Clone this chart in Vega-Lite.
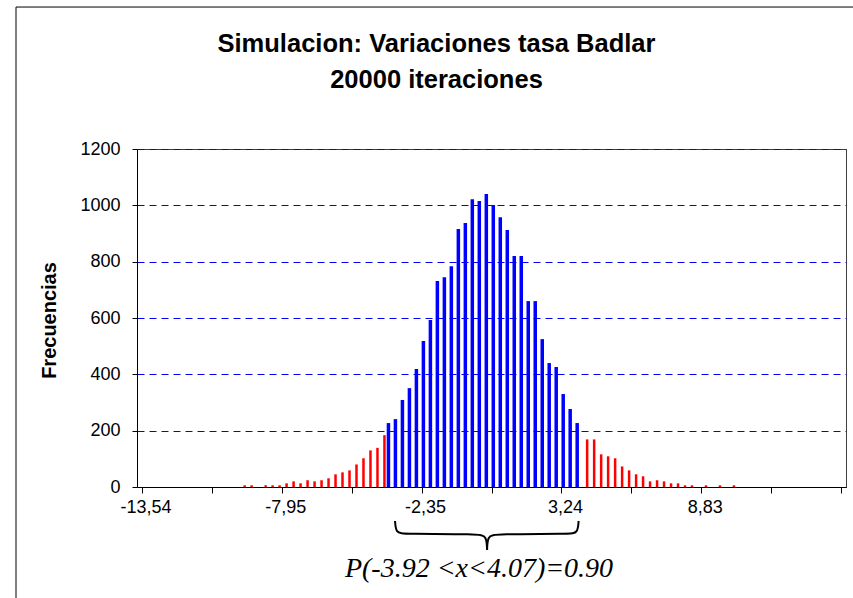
{
  "$schema": "https://vega.github.io/schema/vega-lite/v6.json",
  "width": 709,
  "height": 338,
  "autosize": "none",
  "padding": {"left": 137, "top": 149, "right": 7, "bottom": 111},
  "background": "white",
  "config": {
    "view": {"stroke": "#404040", "strokeWidth": 1},
    "font": "Liberation Sans",
    "axis": {"labelColor": "black", "titleColor": "black", "domainColor": "black", "tickColor": "black", "labelFont": "Liberation Sans", "titleFont": "Liberation Sans"}
  },
  "title": {
    "text": ["Simulacion: Variaciones tasa Badlar", "20000 iteraciones"],
    "font": "Liberation Sans", "fontSize": 25.5, "fontWeight": "bold", "color": "black",
    "anchor": "middle", "frame": "group", "dx": -55, "offset": -87, "lineHeight": 36
  },
  "datasets": {
    "barras": [
      {"x": -9.625, "f": 6, "serie": "fuera"},
      {"x": -9.346, "f": 6, "serie": "fuera"},
      {"x": -8.786, "f": 6, "serie": "fuera"},
      {"x": -8.507, "f": 6, "serie": "fuera"},
      {"x": -8.227, "f": 6, "serie": "fuera"},
      {"x": -7.948, "f": 13, "serie": "fuera"},
      {"x": -7.668, "f": 20, "serie": "fuera"},
      {"x": -7.388, "f": 13, "serie": "fuera"},
      {"x": -7.109, "f": 24, "serie": "fuera"},
      {"x": -6.829, "f": 20, "serie": "fuera"},
      {"x": -6.549, "f": 24, "serie": "fuera"},
      {"x": -6.270, "f": 31, "serie": "fuera"},
      {"x": -5.990, "f": 45, "serie": "fuera"},
      {"x": -5.711, "f": 52, "serie": "fuera"},
      {"x": -5.431, "f": 59, "serie": "fuera"},
      {"x": -5.151, "f": 80, "serie": "fuera"},
      {"x": -4.872, "f": 102, "serie": "fuera"},
      {"x": -4.592, "f": 130, "serie": "fuera"},
      {"x": -4.312, "f": 139, "serie": "fuera"},
      {"x": -4.033, "f": 184, "serie": "fuera"},
      {"x": -3.753, "f": 227, "serie": "dentro"},
      {"x": -3.474, "f": 241, "serie": "dentro"},
      {"x": -3.194, "f": 309, "serie": "dentro"},
      {"x": -2.914, "f": 351, "serie": "dentro"},
      {"x": -2.635, "f": 419, "serie": "dentro"},
      {"x": -2.355, "f": 518, "serie": "dentro"},
      {"x": -2.075, "f": 593, "serie": "dentro"},
      {"x": -1.796, "f": 731, "serie": "dentro"},
      {"x": -1.516, "f": 745, "serie": "dentro"},
      {"x": -1.237, "f": 784, "serie": "dentro"},
      {"x": -0.957, "f": 916, "serie": "dentro"},
      {"x": -0.677, "f": 937, "serie": "dentro"},
      {"x": -0.398, "f": 1022, "serie": "dentro"},
      {"x": -0.118, "f": 1015, "serie": "dentro"},
      {"x": 0.162, "f": 1040, "serie": "dentro"},
      {"x": 0.441, "f": 1001, "serie": "dentro"},
      {"x": 0.721, "f": 958, "serie": "dentro"},
      {"x": 1.001, "f": 912, "serie": "dentro"},
      {"x": 1.280, "f": 820, "serie": "dentro"},
      {"x": 1.560, "f": 820, "serie": "dentro"},
      {"x": 1.839, "f": 660, "serie": "dentro"},
      {"x": 2.119, "f": 660, "serie": "dentro"},
      {"x": 2.399, "f": 525, "serie": "dentro"},
      {"x": 2.678, "f": 440, "serie": "dentro"},
      {"x": 2.958, "f": 426, "serie": "dentro"},
      {"x": 3.238, "f": 330, "serie": "dentro"},
      {"x": 3.517, "f": 277, "serie": "dentro"},
      {"x": 3.797, "f": 227, "serie": "dentro"},
      {"x": 4.076, "f": 169, "serie": "fuera"},
      {"x": 4.356, "f": 169, "serie": "fuera"},
      {"x": 4.636, "f": 116, "serie": "fuera"},
      {"x": 4.915, "f": 109, "serie": "fuera"},
      {"x": 5.195, "f": 102, "serie": "fuera"},
      {"x": 5.475, "f": 73, "serie": "fuera"},
      {"x": 5.754, "f": 59, "serie": "fuera"},
      {"x": 6.034, "f": 45, "serie": "fuera"},
      {"x": 6.313, "f": 38, "serie": "fuera"},
      {"x": 6.593, "f": 20, "serie": "fuera"},
      {"x": 6.873, "f": 24, "serie": "fuera"},
      {"x": 7.152, "f": 20, "serie": "fuera"},
      {"x": 7.432, "f": 13, "serie": "fuera"},
      {"x": 7.712, "f": 13, "serie": "fuera"},
      {"x": 7.991, "f": 6, "serie": "fuera"},
      {"x": 8.271, "f": 6, "serie": "fuera"},
      {"x": 8.830, "f": 6, "serie": "fuera"},
      {"x": 9.389, "f": 6, "serie": "fuera"},
      {"x": 9.949, "f": 6, "serie": "fuera"}
    ],
    "llave": [
      {"lado": "izq", "orden": 0, "x": -3.558, "f": -120.7},
      {"lado": "izq", "orden": 1, "x": -3.519, "f": -163.3},
      {"lado": "izq", "orden": 2, "x": -3.204, "f": -166.9},
      {"lado": "izq", "orden": 3, "x": -0.210, "f": -166.9},
      {"lado": "izq", "orden": 4, "x": 0.105, "f": -174.0},
      {"lado": "izq", "orden": 5, "x": 0.124, "f": -223.7},
      {"lado": "der", "orden": 0, "x": 3.787, "f": -120.7},
      {"lado": "der", "orden": 1, "x": 3.748, "f": -163.3},
      {"lado": "der", "orden": 2, "x": 3.452, "f": -166.9},
      {"lado": "der", "orden": 3, "x": 0.459, "f": -166.9},
      {"lado": "der", "orden": 4, "x": 0.144, "f": -174.0},
      {"lado": "der", "orden": 5, "x": 0.124, "f": -223.7}
    ]
  },
  "layer": [
    {
      "data": {"values": [{}]},
      "mark": {"type": "rect", "fill": "transparent", "stroke": "black", "strokeWidth": 1},
      "encoding": {
        "x": {"datum": -18.72, "type": "quantitative", "title": "P(-3.92 <x<4.07)=0.90"},
        "x2": {"datum": 30},
        "y": {"datum": 1704, "type": "quantitative", "title": "Frecuencias"},
        "y2": {"datum": -2000}
      }
    },
    {
      "data": {"name": "barras"},
      "transform": [{"filter": "datum.serie == 'dentro'"}],
      "mark": {"type": "bar", "orient": "vertical", "size": 3.5, "xOffset": -1.7, "color": "#0000FF"},
      "encoding": {
        "x": {
          "field": "x", "type": "quantitative",
          "scale": {"domain": [-13.6798125, 14.2826875], "nice": false, "zero": false},
          "axis": {
            "values": [-13.6798125, -10.8835625, -8.0873125, -5.2910625, -2.4948125, 0.3014375, 3.0976875, 5.8939375, 8.6901875, 11.4864375, 14.2826875],
            "labelExpr": "round(datum.index*10) % 2 == 0 && datum.index < 1 ? replace(replace(format(datum.value + 0.1399125, '.2f'), '.', ','), '−', '-') : ''",
            "labelOffset": 3.5, "labelFlush": false, "labelOverlap": false,
            "labelFontSize": 18, "labelPadding": 5, "tickSize": 6, "grid": false,
            "title": "P(-3.92 <x<4.07)=0.90",
            "titleFont": "Liberation Serif", "titleFontStyle": "italic", "titleFontWeight": "normal", "titleFontSize": 28,
            "titleX": 341.5, "titleY": 89, "titleBaseline": "alphabetic", "titleAlign": "center", "titleAnchor": null
          }
        },
        "y": {
          "field": "f", "type": "quantitative",
          "scale": {"domain": [0, 1200], "nice": false},
          "axis": {
            "values": [0, 200, 400, 600, 800, 1000, 1200], "format": "d",
            "grid": true, "gridColor": "#0000FF", "gridDash": [7, 5], "gridWidth": 1,
            "labelFontSize": 18, "labelPadding": 12, "tickSize": 5,
            "title": "Frecuencias", "titleFontSize": 20, "titleFontWeight": "bold",
            "titleX": -82, "titleY": 171, "titleAngle": -90, "titleBaseline": "alphabetic", "titleAlign": "center"
          }
        }
      }
    },
    {
      "data": {"name": "barras"},
      "transform": [{"filter": "datum.serie == 'fuera'"}],
      "mark": {"type": "bar", "orient": "vertical", "size": 2.5, "xOffset": 1.3, "color": "#FF0000"},
      "encoding": {
        "x": {"field": "x", "type": "quantitative", "title": "P(-3.92 <x<4.07)=0.90"},
        "y": {"field": "f", "type": "quantitative", "title": "Frecuencias"}
      }
    },
    {
      "data": {"name": "llave"},
      "mark": {"type": "line", "interpolate": "basis", "color": "black", "strokeWidth": 2},
      "encoding": {
        "x": {"field": "x", "type": "quantitative", "title": "P(-3.92 <x<4.07)=0.90"},
        "y": {"field": "f", "type": "quantitative", "title": "Frecuencias"},
        "detail": {"field": "lado"},
        "order": {"field": "orden"}
      }
    }
  ]
}
